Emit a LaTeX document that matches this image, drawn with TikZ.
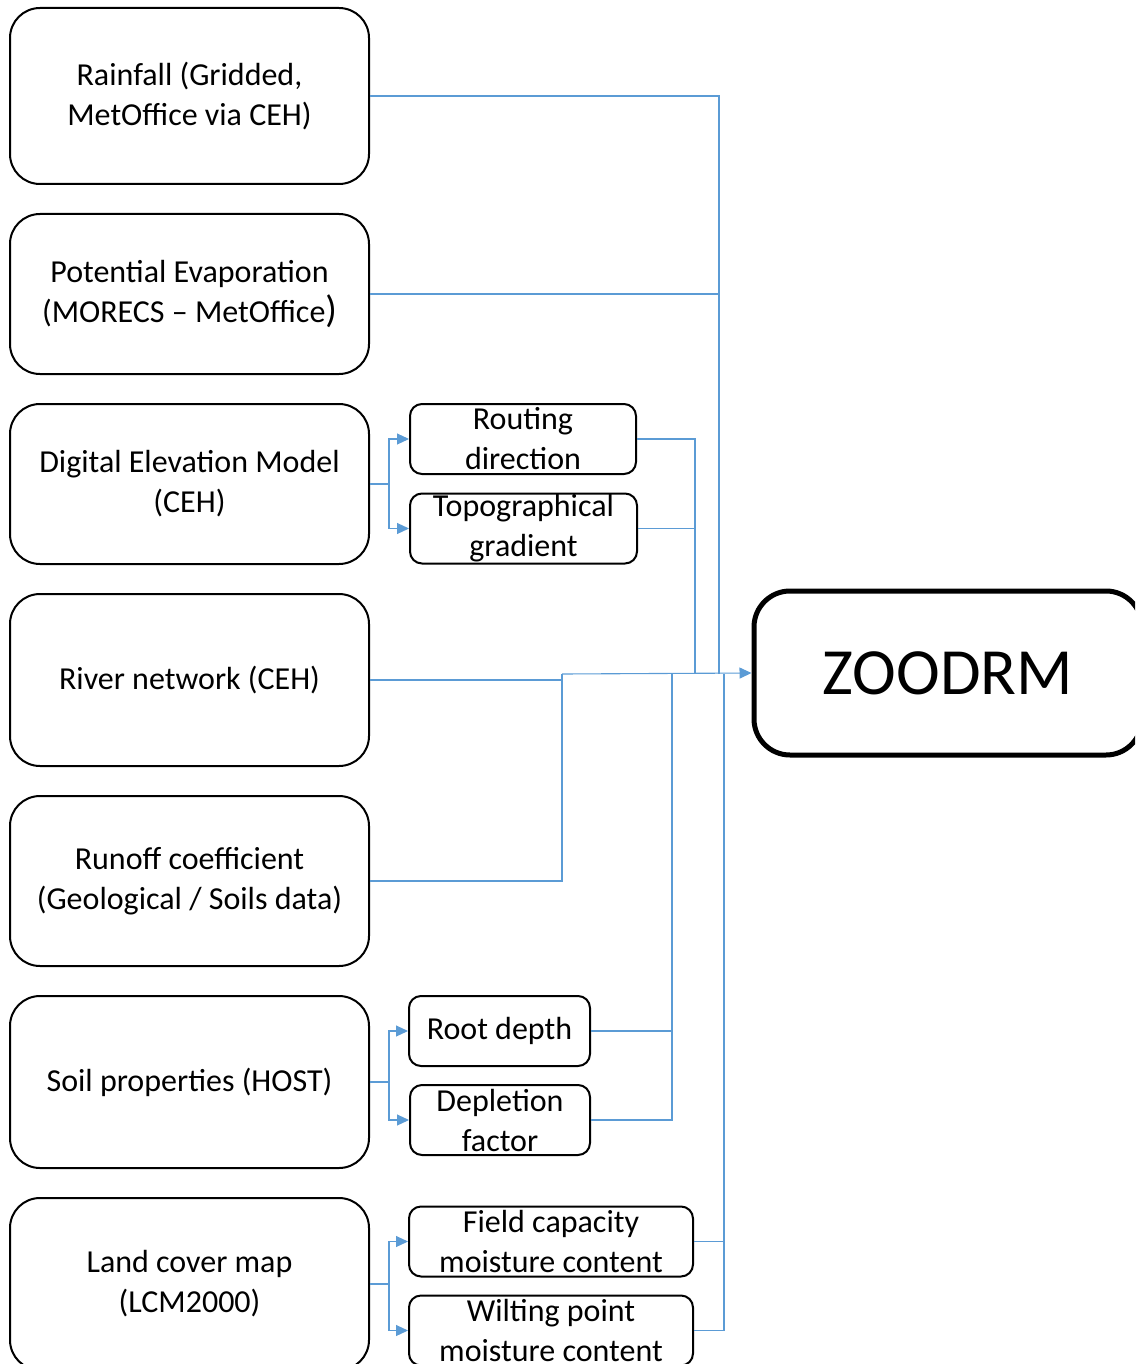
\documentclass[tikz,border=0pt]{standalone}
\usepackage{fontspec}
\setmainfont{Carlito}
\usetikzlibrary{arrows.meta}
\definecolor{linkblue}{HTML}{5B9BD5}
\tikzset{
  bigbox/.style={draw=black, line width=2pt, rounded corners=30pt, minimum width=359pt, inner sep=0pt, align=center, font=\fontsize{32}{40}\selectfont},
  smallbox/.style={draw=black, line width=2pt, rounded corners=12pt, inner sep=0pt, minimum height=70pt, align=center, font=\fontsize{32}{40}\selectfont},
  zoobox/.style={draw=black, line width=5pt, rounded corners=36pt, minimum width=388pt, minimum height=164pt, inner sep=0pt, font=\fontsize{66}{80}\selectfont},
  link/.style={draw=linkblue, line width=1.1pt},
  tip/.style={-{Triangle[length=12pt,width=11pt]}, link}
}
\begin{document}
\begin{tikzpicture}[x=1pt,y=-1pt]
\useasboundingbox (0,0) rectangle (1135,1364);
\clip (0,0) rectangle (1135,1364);
% big left boxes
\node[bigbox, minimum height=176pt] (rain) at (189.5,96) {Rainfall (Gridded,\\MetOffice via CEH)};
\node[bigbox, minimum height=160pt] (pe) at (189.5,294) {Potential Evaporation\\(MORECS -- MetOffice{\fontsize{38}{40}\selectfont )}};
\node[bigbox, minimum height=160pt] (dem) at (189.5,484) {Digital Elevation Model\\(CEH)};
\node[bigbox, minimum height=172pt] (river) at (189.5,680) {River network (CEH)};
\node[bigbox, minimum height=170pt] (runoff) at (189.5,881) {Runoff coefficient\\(Geological / Soils data)};
\node[bigbox, minimum height=172pt] (soil) at (189.5,1082) {Soil properties (HOST)};
\node[bigbox, minimum height=172pt] (land) at (189.5,1284) {Land cover map\\(LCM2000)};
% small boxes
\node[smallbox, minimum width=226pt] (route) at (523,439) {Routing\\direction};
\node[smallbox, minimum width=227pt] (topo) at (523.5,528.5) {Topographical\\gradient};
\node[smallbox, minimum width=181pt] (root) at (499.5,1031) {Root depth};
\node[smallbox, minimum width=180pt] (depl) at (500,1120) {Depletion\\factor};
\node[smallbox, minimum width=284pt] (field) at (551,1241.5) {Field capacity\\moisture content};
\node[smallbox, minimum width=284pt] (wilt) at (551,1330.5) {Wilting point\\moisture content};
% ZOODRM
\node[zoobox] (zoo) at (948,673) {ZOODRM};
% splitters
\coordinate (sd) at (389,484);
\coordinate (ss) at (389,1082);
\coordinate (sl) at (389,1284);
\draw[link] (dem.east) -- (sd);
\draw[tip] (sd) |- (route.west);
\draw[tip] (sd) |- (topo.west);
\draw[link] (soil.east) -- (ss);
\draw[tip] (ss) |- (root.west);
\draw[tip] (ss) |- (depl.west);
\draw[link] (land.east) -- (sl);
\draw[tip] (sl) |- (field.west);
\draw[tip] (sl) |- (wilt.west);
% bus coordinates
\coordinate (b1) at (719,674);
\coordinate (b2) at (695,674);
\coordinate (b3) at (562,674);
\coordinate (b4) at (672,674);
\coordinate (b5) at (724,674);
\draw[link] (rain.east) -| (b1);
\draw[link] (pe.east) -| (b1);
\draw[link] (route.east) -| (b2);
\draw[link] (topo.east) -| (b2);
\draw[link] (river.east) -| (b3);
\draw[link] (runoff.east) -| (b3);
\draw[link] (root.east) -| (b4);
\draw[link] (depl.east) -| (b4);
\draw[link] (field.east) -| (b5);
\draw[link] (wilt.east) -| (b5);
\draw[tip] (b3) -- (zoo.west);
\end{tikzpicture}
\end{document}
